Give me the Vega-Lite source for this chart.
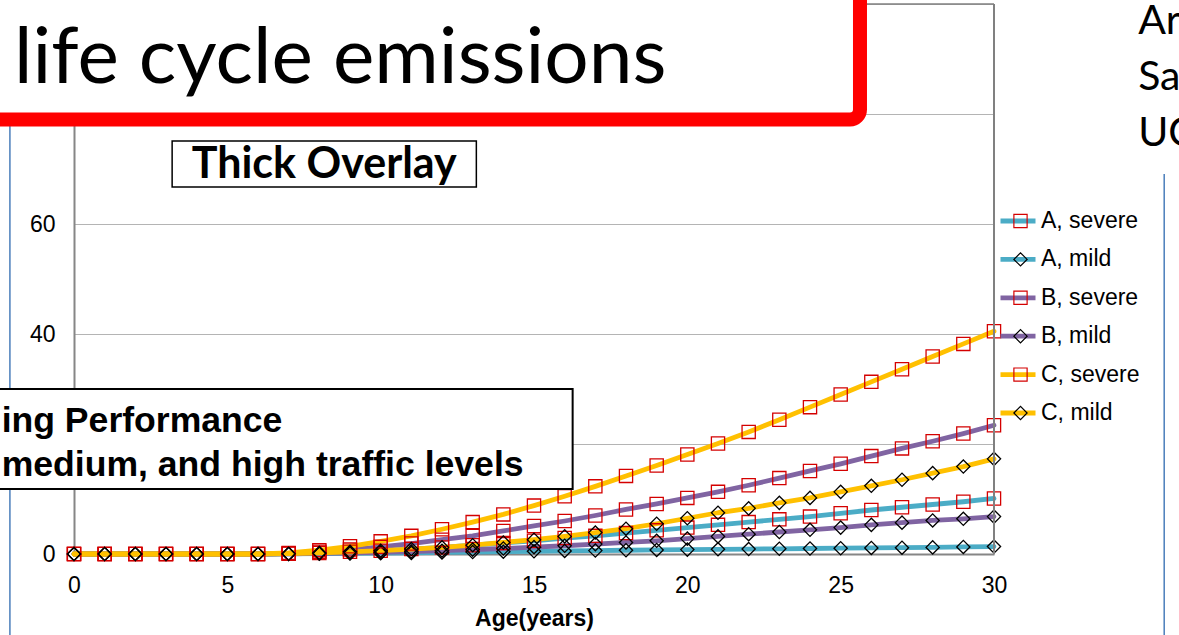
{
  "$schema": "https://vega.github.io/schema/vega-lite/v6.json",
  "width": 920,
  "height": 550,
  "autosize": {"type": "none"},
  "padding": {"left": 74, "top": 4, "right": 185, "bottom": 81},
  "background": "white",
  "config": {
    "view": {"stroke": null},
    "axis": {
      "labelFont": "Liberation Sans",
      "labelFontSize": 23,
      "labelColor": "#000000",
      "labelFlush": false,
      "titleFont": "Liberation Sans",
      "titleFontSize": 23,
      "titleFontWeight": "bold",
      "titleColor": "#000000",
      "ticks": false,
      "tickSize": 0,
      "domainColor": "#868686",
      "domainWidth": 2
    }
  },
  "data": {
    "values": [
      {"age": 0, "A, severe": 0, "A, mild": 0, "B, severe": 0, "B, mild": 0, "C, severe": 0, "C, mild": 0},
      {"age": 1, "A, severe": 0, "A, mild": 0, "B, severe": 0, "B, mild": 0, "C, severe": 0, "C, mild": 0},
      {"age": 2, "A, severe": 0, "A, mild": 0, "B, severe": 0, "B, mild": 0, "C, severe": 0, "C, mild": 0},
      {"age": 3, "A, severe": 0, "A, mild": 0, "B, severe": 0, "B, mild": 0, "C, severe": 0, "C, mild": 0},
      {"age": 4, "A, severe": 0, "A, mild": 0, "B, severe": 0, "B, mild": 0, "C, severe": 0, "C, mild": 0},
      {"age": 5, "A, severe": 0, "A, mild": 0, "B, severe": 0, "B, mild": 0, "C, severe": 0, "C, mild": 0},
      {"age": 6, "A, severe": 0, "A, mild": 0, "B, severe": 0, "B, mild": 0, "C, severe": 0, "C, mild": 0},
      {"age": 7, "A, severe": 0.05, "A, mild": 0.01, "B, severe": 0.1, "B, mild": 0.02, "C, severe": 0.2, "C, mild": 0.05},
      {"age": 8, "A, severe": 0.2, "A, mild": 0.05, "B, severe": 0.4, "B, mild": 0.1, "C, severe": 0.7, "C, mild": 0.2},
      {"age": 9, "A, severe": 0.4, "A, mild": 0.1, "B, severe": 0.8, "B, mild": 0.2, "C, severe": 1.4, "C, mild": 0.4},
      {"age": 10, "A, severe": 0.6, "A, mild": 0.15, "B, severe": 1.3, "B, mild": 0.3, "C, severe": 2.3, "C, mild": 0.6},
      {"age": 11, "A, severe": 0.9, "A, mild": 0.2, "B, severe": 1.9, "B, mild": 0.45, "C, severe": 3.3, "C, mild": 0.9},
      {"age": 12, "A, severe": 1.2, "A, mild": 0.28, "B, severe": 2.6, "B, mild": 0.6, "C, severe": 4.5, "C, mild": 1.2},
      {"age": 13, "A, severe": 1.6, "A, mild": 0.35, "B, severe": 3.3, "B, mild": 0.8, "C, severe": 5.8, "C, mild": 1.6},
      {"age": 14, "A, severe": 2.0, "A, mild": 0.42, "B, severe": 4.2, "B, mild": 1.0, "C, severe": 7.2, "C, mild": 2.1},
      {"age": 15, "A, severe": 2.4, "A, mild": 0.5, "B, severe": 5.1, "B, mild": 1.25, "C, severe": 8.8, "C, mild": 2.6},
      {"age": 16, "A, severe": 2.9, "A, mild": 0.56, "B, severe": 6.0, "B, mild": 1.5, "C, severe": 10.5, "C, mild": 3.2},
      {"age": 17, "A, severe": 3.3, "A, mild": 0.62, "B, severe": 7.0, "B, mild": 1.8, "C, severe": 12.3, "C, mild": 3.9},
      {"age": 18, "A, severe": 3.8, "A, mild": 0.68, "B, severe": 8.1, "B, mild": 2.1, "C, severe": 14.2, "C, mild": 4.6},
      {"age": 19, "A, severe": 4.3, "A, mild": 0.74, "B, severe": 9.1, "B, mild": 2.4, "C, severe": 16.1, "C, mild": 5.5},
      {"age": 20, "A, severe": 4.8, "A, mild": 0.8, "B, severe": 10.2, "B, mild": 2.8, "C, severe": 18.1, "C, mild": 6.5},
      {"age": 21, "A, severe": 5.3, "A, mild": 0.85, "B, severe": 11.3, "B, mild": 3.2, "C, severe": 20.1, "C, mild": 7.5},
      {"age": 22, "A, severe": 5.8, "A, mild": 0.9, "B, severe": 12.5, "B, mild": 3.6, "C, severe": 22.2, "C, mild": 8.3},
      {"age": 23, "A, severe": 6.3, "A, mild": 0.95, "B, severe": 13.8, "B, mild": 4.0, "C, severe": 24.4, "C, mild": 9.3},
      {"age": 24, "A, severe": 6.8, "A, mild": 1.0, "B, severe": 15.1, "B, mild": 4.4, "C, severe": 26.7, "C, mild": 10.2},
      {"age": 25, "A, severe": 7.4, "A, mild": 1.05, "B, severe": 16.4, "B, mild": 4.8, "C, severe": 29.0, "C, mild": 11.3},
      {"age": 26, "A, severe": 8.0, "A, mild": 1.1, "B, severe": 17.8, "B, mild": 5.3, "C, severe": 31.3, "C, mild": 12.4},
      {"age": 27, "A, severe": 8.5, "A, mild": 1.15, "B, severe": 19.2, "B, mild": 5.7, "C, severe": 33.6, "C, mild": 13.5},
      {"age": 28, "A, severe": 9.0, "A, mild": 1.2, "B, severe": 20.5, "B, mild": 6.1, "C, severe": 35.9, "C, mild": 14.7},
      {"age": 29, "A, severe": 9.5, "A, mild": 1.28, "B, severe": 21.9, "B, mild": 6.4, "C, severe": 38.2, "C, mild": 15.9},
      {"age": 30, "A, severe": 10.1, "A, mild": 1.35, "B, severe": 23.4, "B, mild": 6.8, "C, severe": 40.5, "C, mild": 17.3}
    ]
  },
  "transform": [
    {"fold": ["A, severe", "A, mild", "B, severe", "B, mild", "C, severe", "C, mild"], "as": ["series", "value"]}
  ],
  "layer": [
    {
      "mark": {"type": "line", "strokeWidth": 4.8, "strokeJoin": "round", "strokeCap": "round"},
      "encoding": {
        "x": {
          "field": "age", "type": "quantitative",
          "scale": {"domain": [0, 30], "nice": false, "zero": false},
          "axis": {"values": [0, 5, 10, 15, 20, 25, 30], "title": "Age(years)", "grid": false, "labelPadding": 20, "titlePadding": 10}
        },
        "y": {
          "field": "value", "type": "quantitative",
          "scale": {"domain": [0, 100], "nice": false},
          "axis": {"values": [0, 20, 40, 60, 80, 100], "title": null, "grid": true, "gridColor": "#B4B4B4", "gridWidth": 1, "labelPadding": 19}
        },
        "color": {
          "field": "series", "type": "nominal",
          "sort": ["A, severe", "A, mild", "B, severe", "B, mild", "C, severe", "C, mild"],
          "scale": {
            "range": ["#4BACC6", "#4BACC6", "#8064A2", "#8064A2", "#FFC000", "#FFC000"]
          },
          "legend": {
            "title": null, "orient": "none", "legendX": 924, "legendY": 198,
            "symbolType": "stroke", "symbolSize": 1225, "symbolStrokeWidth": 4.8,
            "labelFont": "Liberation Sans", "labelFontSize": 23, "labelColor": "#000000",
            "labelOffset": 3, "clipHeight": 38, "rowPadding": 0.4, "padding": 0, "labelLimit": 300
          }
        }
      }
    },
    {
      "mark": {"type": "point", "filled": false, "size": 175, "strokeWidth": 1.3, "opacity": 1},
      "encoding": {
        "x": {"field": "age", "type": "quantitative"},
        "y": {"field": "value", "type": "quantitative"},
        "stroke": {
          "field": "series", "type": "nominal",
          "scale": {
            "domain": ["A, severe", "A, mild", "B, severe", "B, mild", "C, severe", "C, mild"],
            "range": ["#D40000", "#000000", "#D40000", "#000000", "#D40000", "#000000"]
          },
          "legend": {
            "title": null, "orient": "none", "legendX": 935, "legendY": 198,
            "labelFont": "Liberation Sans", "labelFontSize": 23, "labelOpacity": 0,
            "clipHeight": 38, "rowPadding": 0.4, "padding": 0, "symbolStrokeWidth": 1.2, "symbolSize": 175
          }
        },
        "shape": {
          "field": "series", "type": "nominal",
          "scale": {
            "domain": ["A, severe", "A, mild", "B, severe", "B, mild", "C, severe", "C, mild"],
            "range": ["square", "diamond", "square", "diamond", "square", "diamond"]
          }
        }
      }
    },
    {
      "data": {"values": [{}]},
      "mark": {"type": "rule", "color": "#808080", "strokeWidth": 2},
      "encoding": {"x": {"datum": 30}, "y": {"datum": 0}, "y2": {"datum": 100}}
    },
    {
      "data": {"values": [{}]},
      "mark": {"type": "rule", "color": "#808080", "strokeWidth": 1.5},
      "encoding": {"y": {"datum": 100}, "x": {"datum": 0}, "x2": {"datum": 30}}
    },
    {
      "data": {"values": [{}]},
      "mark": {"type": "rule", "color": "#4A7EBB", "strokeWidth": 1.5},
      "encoding": {"x": {"datum": -2.09}, "y": {"datum": 90}, "y2": {"datum": -15}}
    },
    {
      "data": {"values": [{}]},
      "mark": {"type": "rule", "color": "#4A7EBB", "strokeWidth": 1.5},
      "encoding": {"x": {"datum": 35.55}, "y": {"datum": 69.1}, "y2": {"datum": -15}}
    },
    {
      "data": {"values": [{}]},
      "mark": {"type": "rect", "fill": "white", "stroke": "#FF0000", "strokeWidth": 14, "cornerRadius": 10},
      "encoding": {"x": {"datum": -5}, "x2": {"datum": 25.63}, "y": {"datum": 115}, "y2": {"datum": 79.0}}
    },
    {
      "data": {"values": [{}]},
      "mark": {"type": "text", "font": "Lato", "fontSize": 78.4, "align": "left", "baseline": "alphabetic", "color": "#000000"},
      "encoding": {"x": {"datum": -1.96}, "y": {"datum": 85.6}, "text": {"value": "life cycle emissions"}}
    },
    {
      "data": {"values": [{}]},
      "mark": {"type": "rect", "fill": "white", "stroke": "#000000", "strokeWidth": 1.5},
      "encoding": {"x": {"datum": 3.2}, "x2": {"datum": 13.12}, "y": {"datum": 75.09}, "y2": {"datum": 66.73}}
    },
    {
      "data": {"values": [{}]},
      "mark": {"type": "text", "font": "Lato", "fontWeight": "bold", "fontSize": 43, "align": "center", "baseline": "alphabetic", "color": "#000000"},
      "encoding": {"x": {"datum": 8.16}, "y": {"datum": 68.4}, "text": {"value": "Thick Overlay"}}
    },
    {
      "data": {"values": [{}]},
      "mark": {"type": "rect", "fill": "white", "stroke": "#000000", "strokeWidth": 2},
      "encoding": {"x": {"datum": -3}, "x2": {"datum": 16.26}, "y": {"datum": 30.0}, "y2": {"datum": 11.82}}
    },
    {
      "data": {"values": [{}]},
      "mark": {"type": "text", "font": "Liberation Sans", "fontWeight": "bold", "fontSize": 35.6, "align": "left", "baseline": "alphabetic", "color": "#000000", "lineHeight": 44},
      "encoding": {"x": {"datum": -2.36}, "y": {"datum": 22.2}, "text": {"value": ["ing Performance", "medium, and high traffic levels"]}}
    },
    {
      "data": {"values": [{}]},
      "mark": {"type": "text", "font": "Lato", "fontSize": 41, "align": "left", "baseline": "alphabetic", "color": "#000000", "lineHeight": 56},
      "encoding": {"x": {"datum": 34.7}, "y": {"datum": 94.5}, "text": {"value": ["Ar", "Sa", "UC"]}}
    }
  ]
}
